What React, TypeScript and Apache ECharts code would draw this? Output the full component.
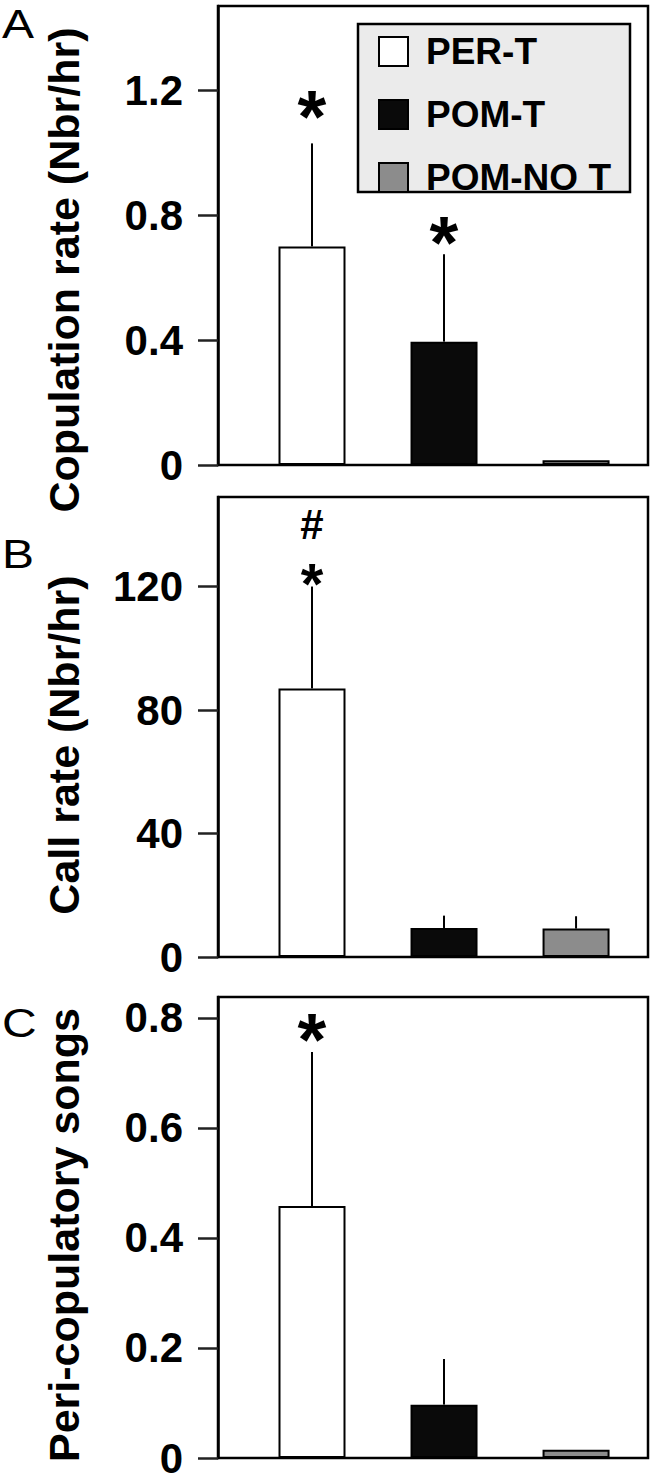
import React, { useEffect, useRef } from "react";
import * as echarts from "echarts";

// ---- data ----
const groups = ["PER-T", "POM-T", "POM-NO T"];
const groupPos = [1, 2, 3];
const groupColors = ["#ffffff", "#0a0a0a", "#8c8c8c"];

const copMean = [0.7, 0.395, 0.015];
const copErr = [0.33, 0.28, 0];
const callMean = [87, 9.4, 9.2];
const callErr = [33, 4, 4];
const songMean = [0.458, 0.097, 0.015];
const songErr = [0.28, 0.083, 0];

const copTicks = [0, 0.4, 0.8, 1.2];
const callTicks = [0, 40, 80, 120];
const songTicks = [0, 0.2, 0.4, 0.6, 0.8];

// significance marks: [position, value, symbol, fontSize]
const copMarks: [number, number, string, number][] = [
  [1, 1.168, "*", 74],
  [2, 0.765, "*", 74],
];
const callMarks: [number, number, string, number][] = [
  [1, 125.2, "*", 58],
  [1, 140.0, "#", 42],
];
const songMarks: [number, number, string, number][] = [[1, 0.791, "*", 74]];

const panelTitles = [
  "Copulation rate (Nbr/hr)",
  "Call rate (Nbr/hr)",
  "Peri-copulatory songs",
];
const panelLetters = ["A", "B", "C"];

const FONT = "'Liberation Sans', Arial, Helvetica, sans-serif";

export default function App() {
  const ref = useRef<HTMLDivElement>(null);
  useEffect(() => {
    if (!ref.current) return;
    const chart = echarts.init(ref.current, undefined, { renderer: "svg" });

    const grids = [
      { left: 218, top: 6, width: 430, height: 459 },
      { left: 218, top: 497, width: 430, height: 460 },
      { left: 218, top: 997, width: 430, height: 461 },
    ].map((g) => ({
      ...g,
      show: true,
      borderColor: "#000",
      borderWidth: 2.5,
      backgroundColor: "transparent",
    }));

    const panels = [
      { mean: copMean, err: copErr, ticks: copTicks, max: 1.47, marks: copMarks },
      { mean: callMean, err: callErr, ticks: callTicks, max: 149, marks: callMarks },
      { mean: songMean, err: songErr, ticks: songTicks, max: 0.838, marks: songMarks },
    ];

    const xAxes = panels.map((_, i) => ({
      type: "value",
      gridIndex: i,
      min: 0.288,
      max: 3.545,
      show: false,
    }));

    const yAxes = panels.map((p, i) => ({
      type: "value",
      gridIndex: i,
      min: 0,
      max: p.max,
      splitLine: { show: false },
      axisLine: { show: true, lineStyle: { color: "#000", width: 2.5 } },
      axisTick: {
        show: true,
        inside: false,
        length: 20,
        customValues: p.ticks,
        lineStyle: { color: "#222", width: 2.5 },
      },
      axisLabel: {
        customValues: p.ticks,
        margin: 35,
        color: "#000",
        fontSize: 42,
        fontWeight: "bold",
        fontFamily: FONT,
        formatter: (v: number) => String(v),
      },
    }));

    const series: any[] = [];
    panels.forEach((p, pi) => {
      groups.forEach((g, gi) => {
        series.push({
          type: "bar",
          name: g,
          xAxisIndex: pi,
          yAxisIndex: pi,
          barWidth: 67,
          barGap: "-100%",
          itemStyle: {
            color: groupColors[gi],
            borderColor: "#000",
            borderWidth: 2,
          },
          data: [[groupPos[gi], p.mean[gi]]],
          z: 2,
        });
      });
      // error bars (upper whisker only)
      series.push({
        type: "custom",
        xAxisIndex: pi,
        yAxisIndex: pi,
        z: 3,
        data: groupPos.map((x, gi) => [x, p.mean[gi], p.err[gi]]),
        renderItem: (params: any, api: any) => {
          const e = api.value(2);
          if (!e) return null;
          const a = api.coord([api.value(0), api.value(1)]);
          const b = api.coord([api.value(0), api.value(1) + e]);
          return {
            type: "line",
            shape: { x1: a[0], y1: a[1], x2: b[0], y2: b[1] },
            style: { stroke: "#000", lineWidth: 2 },
          };
        },
      });
      // significance marks
      series.push({
        type: "custom",
        xAxisIndex: pi,
        yAxisIndex: pi,
        z: 4,
        data: p.marks.map((m) => [m[0], m[1]]),
        renderItem: (params: any, api: any) => {
          const m = p.marks[params.dataIndex];
          const sym = m[2];
          const fs = m[3];
          const c = api.coord([api.value(0), api.value(1)]);
          const off = sym === "*" ? 0.225 * fs : 0;
          return {
            type: "text",
            x: c[0],
            y: c[1] + off,
            style: {
              text: sym,
              fill: "#000",
              fontSize: fs,
              fontWeight: "bold",
              fontFamily: FONT,
              align: "center",
              verticalAlign: "middle",
            },
          };
        },
      });
    });

    const titleCenters = [270, 745, 1235];
    const letterY = [24, 554, 1023];
    const graphic: any[] = [
      {
        type: "rect",
        z: 1,
        shape: { x: 358, y: 24, width: 272, height: 168 },
        style: { fill: "#ebebeb", stroke: "#000", lineWidth: 2.5 },
      },
    ];
    panelTitles.forEach((t, i) => {
      graphic.push({
        type: "text",
        x: 64,
        y: titleCenters[i],
        rotation: Math.PI / 2,
        style: {
          text: t,
          fill: "#000",
          fontSize: 43,
          fontWeight: "bold",
          fontFamily: FONT,
          align: "center",
          verticalAlign: "middle",
        },
      });
      graphic.push({
        type: "text",
        x: 2,
        y: letterY[i],
        scaleX: 1.2,
        style: {
          text: panelLetters[i],
          fill: "#000",
          fontSize: 40,
          fontWeight: "normal",
          fontFamily: FONT,
          align: "left",
          verticalAlign: "middle",
        },
      });
    });

    chart.setOption({
      animation: false,
      backgroundColor: "#fff",
      grid: grids,
      xAxis: xAxes,
      yAxis: yAxes,
      legend: {
        data: groups,
        orient: "vertical",
        left: 378,
        top: 33,
        padding: 0,
        itemWidth: 29,
        itemHeight: 29,
        itemGap: 26,
        icon: "rect",
        selectedMode: false,
        z: 10,
        itemStyle: { borderColor: "#000", borderWidth: 2 },
        textStyle: {
          color: "#000",
          fontSize: 37,
          fontWeight: "bold",
          fontFamily: FONT,
          lineHeight: 29,
          padding: [0, 0, 0, 13],
        },
      },
      graphic,
      series,
    });

    return () => chart.dispose();
  }, []);

  return (
    <div
      ref={ref}
      style={{ position: "absolute", left: 0, top: 0, width: 655, height: 1480 }}
    />
  );
}
